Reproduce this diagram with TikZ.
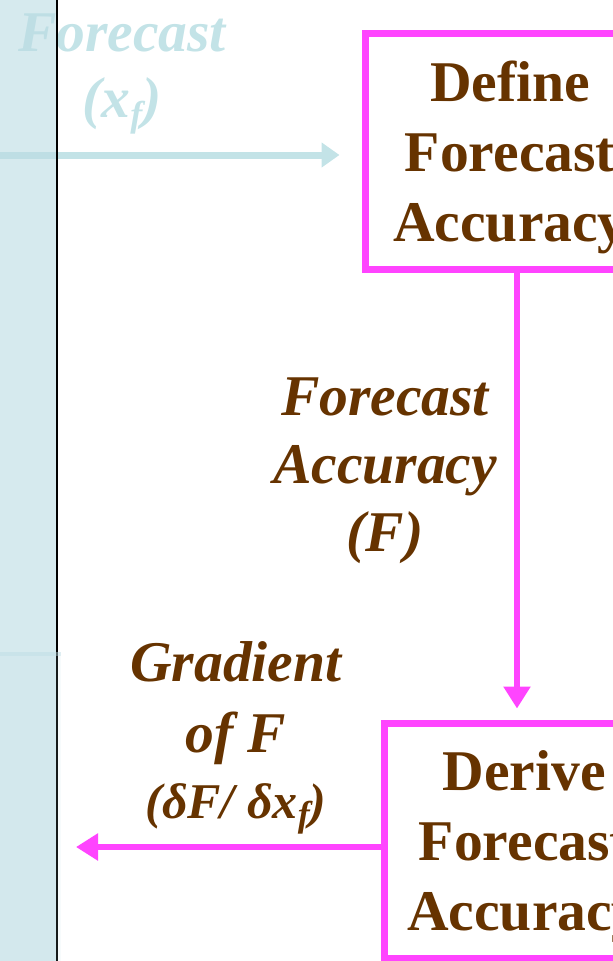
\documentclass[tikz,border=0pt]{standalone}
\usepackage{fontspec}
\setmainfont{Liberation Serif}
\usetikzlibrary{arrows.meta}
\definecolor{pinkc}{HTML}{FF44FF}
\definecolor{brownc}{HTML}{663300}
\definecolor{bluet}{HTML}{C3E3E7}
\definecolor{bandc}{RGB}{187,220,227}
\newcommand{\sub}[1]{\raisebox{-0.35ex}{\fontsize{36}{36}\selectfont #1}}
\newcommand{\boxtext}[1]{\raisebox{-6pt}[\height][\depth]{\begin{tabular}{@{}c@{}}#1\end{tabular}}}
\tikzset{
  box/.style={draw=pinkc, line width=7pt, fill=white, text=brownc, align=center,
    font=\fontsize{57.6}{70}\selectfont\bfseries, inner sep=0pt},
  lbl/.style={text=brownc, align=center, font=\fontsize{57.6}{68}\selectfont\bfseries\itshape, inner sep=0pt},
  blbl/.style={text=bluet, align=center, font=\fontsize{57.6}{66}\selectfont\bfseries\itshape, inner sep=0pt},
  parrow/.style={draw=pinkc, line width=6pt, -{Triangle[length=22pt,width=26pt]}},
  barrow/.style={draw=bluet, line width=7pt, -{Triangle[length=18pt,width=24pt]}}
}
\begin{document}
\begin{tikzpicture}[x=1pt,y=-1pt]
\useasboundingbox (0,0) rectangle (613,961);
% faded input label and arrow
\node[blbl] (inlbl) at (122,74) {Forecast\\(x\sub{f})};
\coordinate (bstart) at (0,155);
% boxes
\node[box, minimum width=290pt, minimum height=236pt] (define) at (510,151) {\boxtext{Define\\Forecast\\Accuracy}};
\node[box, minimum width=280pt, minimum height=235pt] (derive) at (524,840.5) {\boxtext{Derive\\Forecast\\Accuracy}};
\draw[barrow, shorten >=22pt] (bstart) -- (define.west |- bstart);
% band
\fill[bandc, opacity=0.6] (0,0) rectangle (56,961);
\draw[black, line width=2pt] (57,0) -- (57,961);
\fill[bandc, opacity=0.12] (0,652) rectangle (61,961);
\draw[bandc, opacity=0.4, line width=4pt] (0,654) -- (61,654);
% connectors
\draw[parrow, shorten >=11pt] ([xshift=7pt]define.south) -- ([xshift=7pt]define.south |- derive.north);
\coordinate (gtip) at (76,847);
\draw[parrow] (derive.west |- gtip) -- (gtip);
% labels
\node[lbl] (acc) at (385,471) {Forecast\\Accuracy\\(F)};
\node[lbl, font=\fontsize{57.6}{71}\selectfont\bfseries\itshape] (grad) at (236,738) {Gradient\\of F\\[-5pt]{\fontsize{50}{50}\selectfont(δF/ δx\sub{f})}};
\end{tikzpicture}
\end{document}
